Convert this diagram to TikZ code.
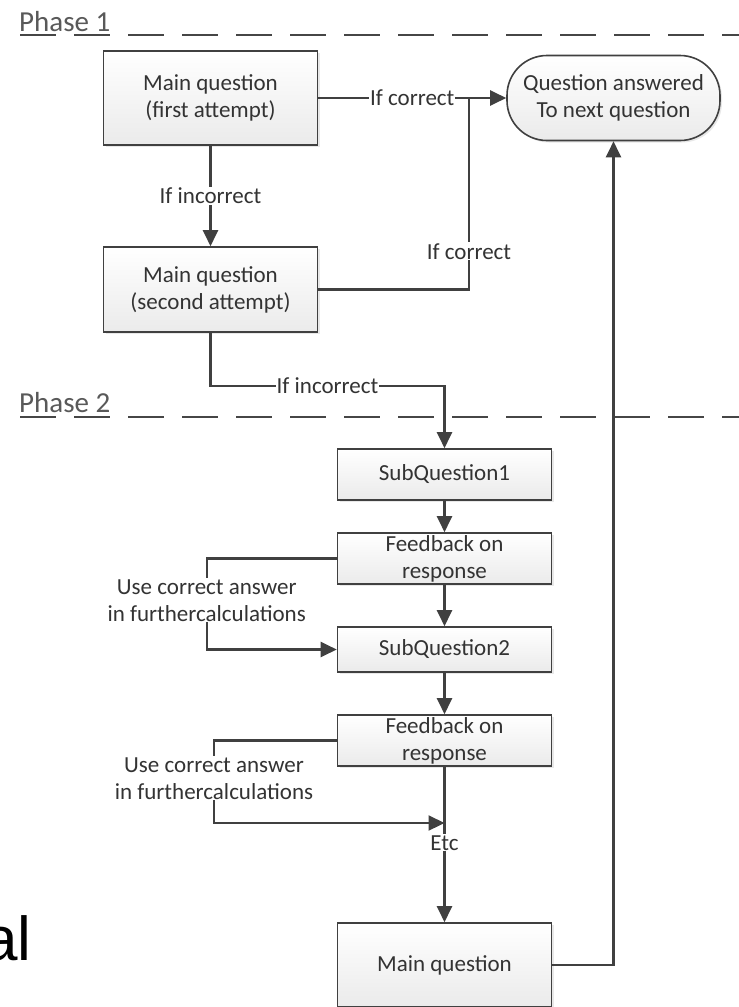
\documentclass[tikz,border=0pt]{standalone}
\usepackage{fontspec}
\setmainfont{Carlito}
\newfontfamily\arialfont{Liberation Sans}
\usetikzlibrary{arrows.meta, calc, positioning, shadows}
\definecolor{linegray}{HTML}{404040}
\definecolor{textgray}{HTML}{333333}

\begin{document}
\begin{tikzpicture}[x=1pt, y=-1pt, line join=miter,
  every node/.style={font=\fontsize{23}{27}\selectfont, text=textgray},
  link/.style={draw=linegray, line width=2.2pt},
  flow/.style={link, -{Triangle[length=16pt,width=15pt]}},
  box/.style={draw=linegray, line width=1.6pt, top color=white, bottom color=gray!16,
    align=center, inner sep=0pt, minimum width=214pt,
    drop shadow={opacity=0.18, shadow xshift=2pt, shadow yshift=-2pt}},
  lbl/.style={fill=white, inner sep=1pt, align=center},
  phase/.style={font=\fontsize{29}{33}\selectfont, text=gray!70!black, anchor=base west, inner sep=0pt},
  sep/.style={draw=gray!55!black, line width=1.7pt, dash pattern=on 36pt off 18pt}]

% page frame
\fill[white] (0,0) rectangle (739,1007);
\useasboundingbox (0,0) rectangle (739,1007);

% --- phase separators ---
\draw[sep] (20,35) -- (739,35);
\node[phase] (ph1) at (19,31) {Phase 1};
\draw[sep] (20,417) -- (739,417);
\node[phase] (ph2) at (19,412) {Phase 2};

% --- phase 1 boxes ---
\node[box, minimum height=94pt] (qA) at (210.5,98) {Main question\\(first attempt)};
\node[box, minimum height=85pt] (qB) at (210.5,289.5) {Main question\\(second attempt)};
\node[box, rounded corners=40pt, minimum width=213pt, minimum height=85pt] (done) at (613.5,98) {Question answered\\To next question};

% --- phase 2 boxes ---
\node[box, minimum height=51pt] (sq1) at (444.5,474.5) {SubQuestion1};
\node[box, minimum height=51pt] (fb1) at (444.5,558.5) {Feedback on\\response};
\node[box, minimum height=45pt] (sq2) at (444.5,649.5) {SubQuestion2};
\node[box, minimum height=51pt] (fb2) at (444.5,740.5) {Feedback on\\response};
\node[box, minimum height=84pt] (mq) at (444.5,965) {Main question};

% helper points
\coordinate (join) at (469,98);
\coordinate (etc) at (444.5,823);

% --- connectors ---
\draw[flow] (qA) -- node[lbl] {If incorrect} (qB);
\draw[flow] (qA.east) -- node[lbl] {If correct} (done.west);
\draw[link] (qB.east) -| node[lbl, pos=0.6] {If correct} (join);
\draw[flow] (qB.south) -- ++(0,53) -| node[lbl, pos=0.25] {If incorrect} (sq1.north);

\draw[flow] (sq1) -- (fb1);
\draw[flow] (fb1) -- (sq2);
\draw[flow] (sq2) -- (fb2);
\draw[flow] (fb1.west) -| node[lbl, pos=0.73] {Use correct answer\\in furthercalculations} ($(sq2.west)+(-130,0)$) -- (sq2.west);
\draw[flow] (fb2.west) -| node[lbl, pos=0.73] {Use correct answer\\in furthercalculations} ($(etc)+(-230.5,0)$) -- (etc);
\draw[flow] (fb2) -- node[lbl, pos=0.49] {Etc} (mq);
\draw[flow] (mq.east) -| (done.south);

% cut-off text at the lower left
\node[font=\arialfont\fontsize{62}{62}\selectfont, text=black, anchor=base west, inner sep=0pt] (frag) at (-17,960) {al};

\end{tikzpicture}
\end{document}
